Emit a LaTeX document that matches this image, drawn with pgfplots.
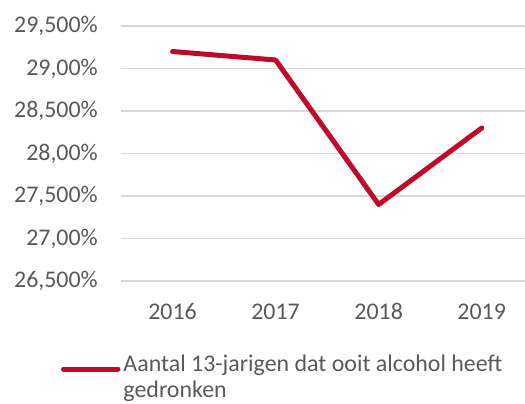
\documentclass[border=0pt]{standalone}
\usepackage{pgfplots}
\pgfplotsset{compat=1.18}
\usepackage{fontspec}
\setmainfont{Carlito}
\definecolor{linered}{RGB}{192,10,42}
\definecolor{txtgray}{RGB}{89,89,89}
\definecolor{gridgray}{RGB}{217,217,217}
\begin{document}
\begin{tikzpicture}
\useasboundingbox (0bp,0bp) rectangle (525bp,404bp);
\begin{axis}[
  at={(121bp,123bp)}, anchor=south west,
  scale only axis, width=404bp, height=255bp,
  xmin=-0.5, xmax=3.42, ymin=26.5, ymax=29.5,
  axis line style={draw=none},
  tick style={draw=none}, major tick length=0pt,
  ymajorgrids, grid style={gridgray, line width=1.2bp},
  ytick={26.5,27,27.5,28,28.5,29,29.5},
  yticklabels={{26,500\%},{27,00\%},{27,500\%},{28,00\%},{28,500\%},{29,00\%},{29,500\%}},
  xtick={0,1,2,3},
  xticklabels={2016,2017,2018,2019},
  tick label style={font=\fontsize{24}{28}\selectfont, text=txtgray, inner sep=0pt},
  yticklabel style={anchor=east, xshift=-23bp},
  xticklabel style={anchor=base, yshift=-38bp},
  legend style={at={(0,0)}, anchor=north west, xshift=-60bp, yshift=-74bp,
    draw=none, fill=none, inner sep=0pt, outer sep=0pt,
    font=\fontsize{24}{26}\selectfont, text=txtgray,
    cells={align=left, anchor=west}, nodes={inner sep=0pt},
    column sep=3bp},
  legend image code/.code={\draw[#1, line width=5bp, line cap=round] (2.5bp,8bp) -- (57bp,8bp);},
  clip=false,
]
\addplot[linered, line width=5bp, line join=round, line cap=round] coordinates {(0,29.2) (1,29.1) (2,27.4) (3,28.3)};
\addlegendentry{Aantal 13-jarigen dat ooit alcohol heeft\\gedronken}
\end{axis}
\end{tikzpicture}
\end{document}
